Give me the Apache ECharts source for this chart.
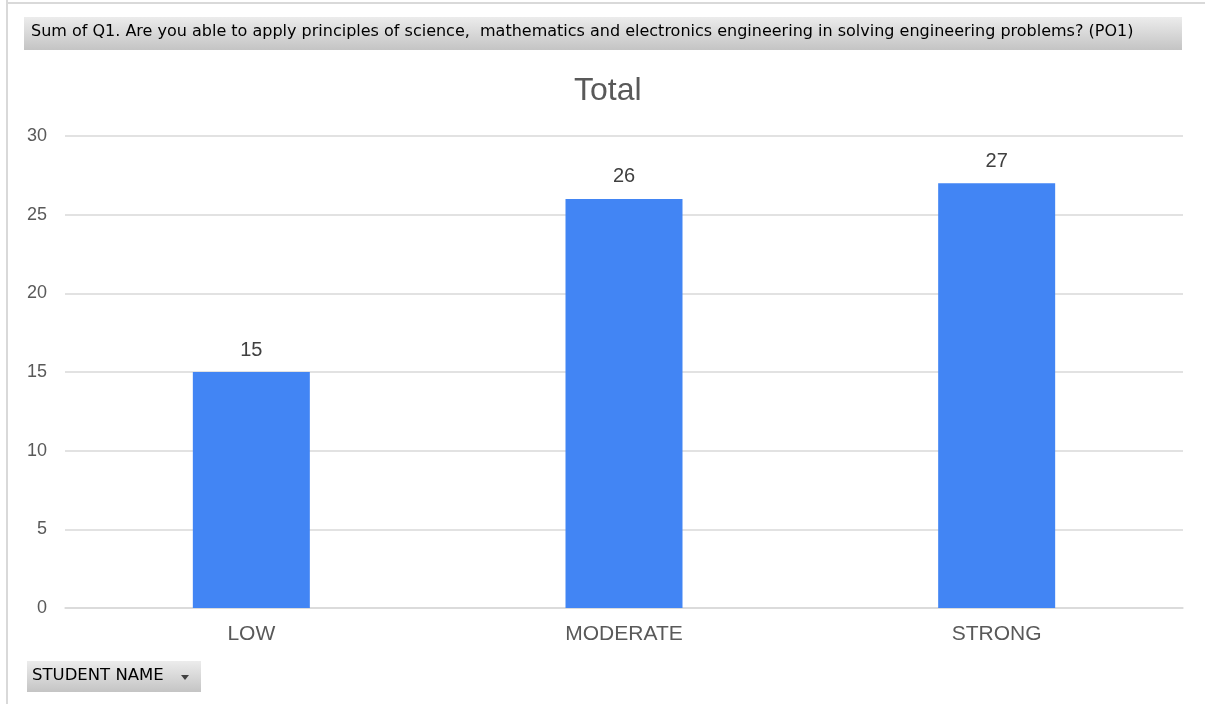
<!DOCTYPE html>
<html><head><meta charset="utf-8">
<script src="https://cdn.jsdelivr.net/npm/echarts@6/dist/echarts.min.js"></script>
<style>html,body{margin:0;padding:0;background:#fff}#c{width:1205px;height:704px}</style>
</head><body><div id="c"></div>
<script>
const categories = ['LOW', 'MODERATE', 'STRONG'];
const totals = [15, 26, 27];
const yTicks = [0, 5, 10, 15, 20, 25, 30];
const headerText = 'Sum of Q1. Are you able to apply principles of science,  mathematics and electronics engineering in solving engineering problems? (PO1)';
const filterText = 'STUDENT NAME';

const chart = echarts.init(document.getElementById('c'));
const grayGrad = new echarts.graphic.LinearGradient(0, 0, 0, 1, [
  {offset: 0, color: '#ececec'}, {offset: 1, color: '#c4c4c4'}
]);
chart.setOption({
  animation: false,
  title: {
    text: 'Total', left: 569, top: 70,
    textStyle: {fontFamily: 'Liberation Sans, Arial', fontSize: 32, fontWeight: 'normal', color: '#595959'}
  },
  grid: {left: 65, right: 22, top: 136, bottom: 96, containLabel: false},
  xAxis: {
    type: 'category', data: categories,
    axisLine: {show: true, lineStyle: {color: '#d9d9d9', width: 1.5}},
    axisTick: {show: false},
    axisLabel: {fontFamily: 'Liberation Sans, Arial', fontSize: 21, color: '#595959', margin: 16}
  },
  yAxis: {
    type: 'value', min: yTicks[0], max: yTicks[yTicks.length - 1], interval: 5,
    axisLine: {show: false}, axisTick: {show: false},
    splitLine: {lineStyle: {color: '#d9d9d9', width: 1.5}},
    axisLabel: {fontFamily: 'Liberation Sans, Arial', fontSize: 18, color: '#595959', margin: 18}
  },
  series: [{
    type: 'bar', data: totals, barWidth: 117,
    itemStyle: {color: '#4285f4'},
    label: {show: true, position: 'top', distance: 12, fontFamily: 'Liberation Sans, Arial', fontSize: 20, color: '#404040'}
  }],
  graphic: [
    {type: 'line', shape: {x1: 7, y1: 0, x2: 7, y2: 704}, style: {stroke: '#d9d9d9', lineWidth: 2}},
    {type: 'line', shape: {x1: 7, y1: 3, x2: 1205, y2: 3}, style: {stroke: '#d9d9d9', lineWidth: 2}},
    {type: 'rect', shape: {x: 24, y: 17, width: 1158, height: 33}, style: {fill: grayGrad}},
    {type: 'text', left: 31, top: 24, style: {text: headerText, fontFamily: 'DejaVu Sans', fontSize: 16, fill: '#000'}},
    {type: 'rect', shape: {x: 27, y: 661, width: 174, height: 31}, style: {fill: grayGrad}},
    {type: 'text', left: 32, top: 667, style: {text: filterText, fontFamily: 'DejaVu Sans', fontSize: 16.5, fill: '#000'}},
    {type: 'polygon', shape: {points: [[181, 675], [189, 675], [185, 680]]}, style: {fill: '#404040'}}
  ]
});
</script></body></html>
